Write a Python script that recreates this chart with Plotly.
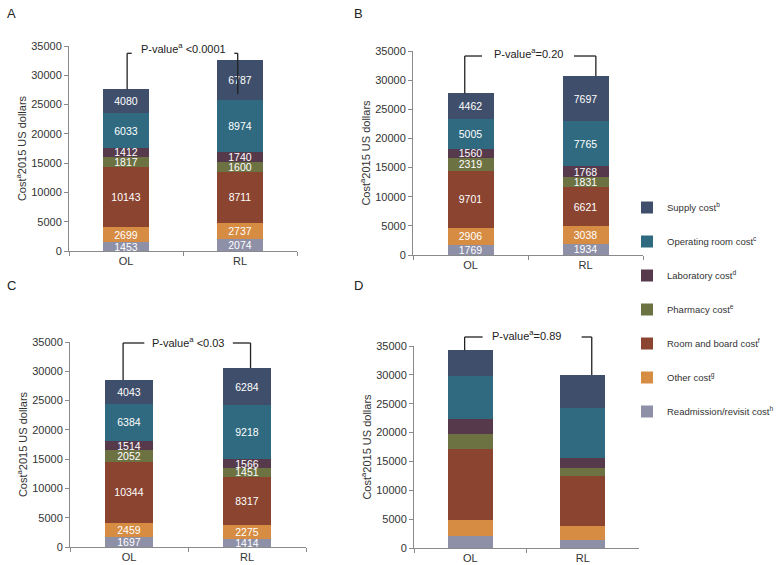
import plotly.graph_objects as go

categories = ["OL", "RL"]
series_names = [
    "Readmission/revisit cost<sup>h</sup>",
    "Other cost<sup>g</sup>",
    "Room and board cost<sup>f</sup>",
    "Pharmacy cost<sup>e</sup>",
    "Laboratory cost<sup>d</sup>",
    "Operating room cost<sup>c</sup>",
    "Supply cost<sup>b</sup>",
]
colors = ["#8E90A8", "#D68C42", "#8A442F", "#6D7243", "#563A4C", "#2F6A80", "#3F4F6B"]

# values per panel: rows follow series_names order, columns follow categories
panel_A = [[1453, 2074], [2699, 2737], [10143, 8711], [1817, 1600], [1412, 1740], [6033, 8974], [4080, 6787]]
panel_B = [[1769, 1934], [2906, 3038], [9701, 6621], [2319, 1831], [1560, 1768], [5005, 7765], [4462, 7697]]
panel_C = [[1697, 1414], [2459, 2275], [10344, 8317], [2052, 1451], [1514, 1566], [6384, 9218], [4043, 6284]]
panel_D = [[2014, 1438], [2819, 2302], [12313, 8746], [2589, 1381], [2647, 1726], [7365, 8630], [4488, 5754]]
p_values = ["P-value<sup>a</sup> <0.0001", "P-value<sup>a</sup>=0.20", "P-value<sup>a</sup> <0.03", "P-value<sup>a</sup>=0.89"]
panel_letters = ["A", "B", "C", "D"]
show_labels = [True, True, True, False]

W, H = 778, 565
# pixel boxes of plot areas: (left, right, top, bottom)
boxes = [(69, 297, 46, 251), (413, 643, 51, 255), (70, 306, 342, 547), (414, 639, 346, 548)]
letter_pos = [(5, 14), (352, 14), (5, 285), (352, 285)]
# bracket geometry: left vert x, left horiz end, right horiz start, right vert x (category units), bracket y, right-line bottom, text y (data units)
brackets = [
    (0.01, 0.05, 0.95, 0.98, 33750, 26800, 34660),
    (-0.05, 0.10, 0.90, 1.09, 34140, None, 34650),
    (-0.05, 0.13, 0.88, 1.03, 34830, None, 35050),
    (-0.05, 0.11, 0.99, 1.08, 36560, None, 36950),
]
YMAX = 35000

fig = go.Figure()
panels = [panel_A, panel_B, panel_C, panel_D]
font_fam = "Liberation Sans, Arial, sans-serif"

for p, data in enumerate(panels):
    ax = "" if p == 0 else str(p + 1)
    for i, name in enumerate(series_names):
        fig.add_trace(go.Bar(
            x=categories, y=data[i], name=name,
            marker=dict(color=colors[i], line=dict(width=0)),
            width=0.4,
            text=[str(v) for v in data[i]] if show_labels[p] else None,
            textposition="inside" if show_labels[p] else "none",
            insidetextanchor="middle",
            constraintext="none",
            textfont=dict(color="white", size=10.5, family=font_fam),
            xaxis="x" + ax, yaxis="y" + ax,
            showlegend=(p == 0), legendgroup="g%d" % i,
            legendrank=(len(series_names) - i) * 10,
            hoverinfo="skip",
        ))
    l, r, t, b = boxes[p]
    fig.layout["xaxis" + ax] = dict(
        domain=[l / W, r / W], anchor="y" + ax, type="category", automargin=False,
        showline=True, linecolor="#8a8a8a", linewidth=1,
        ticks="outside", tickson="boundaries", ticklen=4, tickcolor="#8a8a8a",
        tickfont=dict(size=11, color="#333", family=font_fam),
        showgrid=False, zeroline=False, range=[-0.5, 1.5],
    )
    fig.layout["yaxis" + ax] = dict(
        domain=[1 - b / H, 1 - t / H], anchor="x" + ax, automargin=False,
        range=[0, YMAX], dtick=5000, tickformat="d",
        showline=True, linecolor="#8a8a8a", linewidth=1,
        ticks="outside", ticklen=4, tickcolor="#8a8a8a",
        tickfont=dict(size=11, color="#333", family=font_fam),
        showgrid=False, zeroline=False,
        title=dict(text="Cost<sup>a</sup>2015 US dollars", font=dict(size=11, color="#333", family=font_fam), standoff=2),
    )
    # bracket
    lv, lh, rh, rv, yb, rbot, ytxt = brackets[p]
    tot = [sum(data[i][j] for i in range(len(series_names))) for j in range(2)]
    xd = lambda c: (c + 0.5) / 2
    yd = lambda v: v / YMAX
    xr, yr = "x" + ax + " domain", "y" + ax + " domain"
    line = dict(color="#222", width=1.3)
    fig.add_shape(type="line", xref=xr, yref=yr, x0=xd(lv), x1=xd(lv), y0=yd(tot[0]), y1=yd(yb), line=line)
    fig.add_shape(type="line", xref=xr, yref=yr, x0=xd(lv), x1=xd(lh), y0=yd(yb), y1=yd(yb), line=line)
    fig.add_shape(type="line", xref=xr, yref=yr, x0=xd(rh), x1=xd(rv), y0=yd(yb), y1=yd(yb), line=line)
    fig.add_shape(type="line", xref=xr, yref=yr, x0=xd(rv), x1=xd(rv), y0=yd(rbot if rbot else tot[1]), y1=yd(yb), line=line)
    fig.add_annotation(text=p_values[p], xref=xr, yref=yr, x=0.5, y=yd(ytxt), showarrow=False,
                       font=dict(size=11, color="#222", family=font_fam), yanchor="middle")
    lx, ly = letter_pos[p]
    fig.add_annotation(text=panel_letters[p], xref="paper", yref="paper", x=lx / W, y=1 - ly / H,
                       xanchor="left", yanchor="middle", showarrow=False,
                       font=dict(size=13, color="#222", family=font_fam))

fig.update_layout(
    width=W, height=H, barmode="stack",
    margin=dict(l=0, r=0, t=0, b=0, autoexpand=False),
    paper_bgcolor="white", plot_bgcolor="white",
    legend=dict(x=627 / W, y=1 - 193 / H, xanchor="left", yanchor="top",
                traceorder="grouped", tracegroupgap=15,
                font=dict(size=9.5, color="#333", family=font_fam),
                bgcolor="rgba(0,0,0,0)", itemwidth=30),
    font=dict(family=font_fam),
)

fig.write_html("out.html", config={"displayModeBar": False},
               post_script="document.body.style.margin='0';document.body.style.overflow='hidden';")
